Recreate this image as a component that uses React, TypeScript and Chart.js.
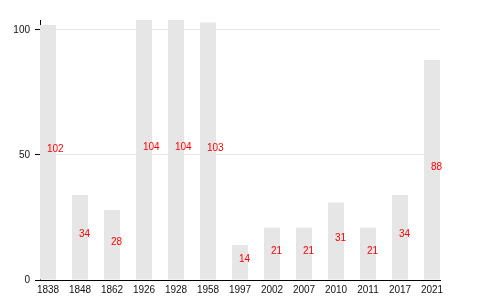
import React, { useEffect, useRef } from "react";
import { Chart, registerables } from "chart.js";

Chart.register(...registerables);

const categories = ["1838", "1848", "1862", "1926", "1928", "1958", "1997", "2002", "2007", "2010", "2011", "2017", "2021"];
const values = [102, 34, 28, 104, 104, 103, 14, 21, 21, 31, 21, 34, 88];
const yTicks = [0, 50, 100];

const FONT = "'Liberation Sans', Arial, Helvetica, sans-serif";

const labelPlugin = {
  id: "midLabels",
  afterDatasetsDraw(chart: any) {
    const ctx = chart.ctx;
    const meta = chart.getDatasetMeta(0);
    ctx.save();
    ctx.font = `10px ${FONT}`;
    ctx.fillStyle = "#ff0000";
    ctx.textAlign = "left";
    ctx.textBaseline = "alphabetic";
    meta.data.forEach((bar: any, i: number) => {
      const p = bar.getProps(["x", "y", "base"], true);
      ctx.fillText(String(values[i]), p.x - 1, (p.y + p.base) / 2);
    });
    ctx.restore();
  },
};

export default function App() {
  const ref = useRef<HTMLCanvasElement>(null);
  useEffect(() => {
    const chart = new Chart(ref.current as HTMLCanvasElement, {
      type: "bar",
      data: {
        datasets: [
          {
            data: values.map((v, i) => ({ x: i, y: v })),
            backgroundColor: "#e6e6e6",
            borderWidth: 0,
            barPercentage: 0.5,
            categoryPercentage: 1,
          },
        ],
      },
      options: {
        responsive: false,
        animation: false,
        layout: { padding: { top: 20, right: 40, left: 0, bottom: 0 } },
        plugins: { legend: { display: false }, tooltip: { enabled: false } },
        scales: {
          x: {
            type: "linear",
            offset: false,
            min: -0.25,
            max: 12.25,
            afterBuildTicks: (scale: any) => {
              scale.ticks = categories.map((_, i) => ({ value: i }));
            },
            afterFit: (scale: any) => {
              scale.height = 20;
            },
            grid: { display: false, drawTicks: false },
            border: { display: true, color: "#000", width: 1 },
            ticks: {
              autoSkip: false,
              maxRotation: 0,
              padding: 4,
              color: "#111",
              font: { family: FONT, size: 10 },
              callback: (v: any) => categories[v as number] ?? "",
            },
          },
          y: {
            min: 0,
            max: 104,
            afterBuildTicks: (scale: any) => {
              scale.ticks = yTicks.map((v) => ({ value: v }));
            },
            afterFit: (scale: any) => {
              scale.width = 40;
            },
            grid: { color: "#e6e6e6", tickColor: "#000", tickLength: 5, lineWidth: 1 },
            border: { display: true, color: "#000", width: 1 },
            ticks: {
              padding: 5,
              color: "#111",
              font: { family: FONT, size: 10 },
              includeBounds: false,
            },
          },
        },
      },
      plugins: [labelPlugin],
    } as any);
    return () => chart.destroy();
  }, []);
  return (
    <div style={{ position: "fixed", left: 0, top: 0, width: 480, height: 300, background: "#fff" }}>
      <canvas ref={ref} width={480} height={300} style={{ display: "block" }} />
    </div>
  );
}
